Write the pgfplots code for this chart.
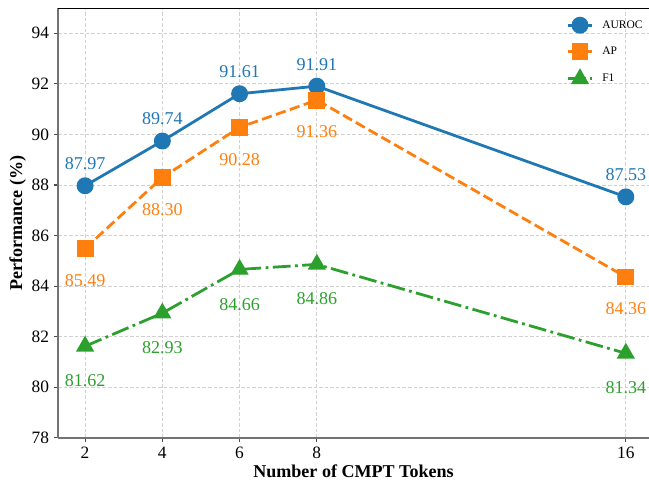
\documentclass[border=0pt]{standalone}
\usepackage{pgfplots}
\pgfplotsset{compat=1.18}
\usepackage{fontspec}
\setmainfont{Liberation Serif}
\usetikzlibrary{calc}
\definecolor{cA}{HTML}{1F77B4}
\definecolor{cB}{HTML}{FF7F0E}
\definecolor{cC}{HTML}{2CA02C}
\begin{document}
\begin{tikzpicture}
\begin{axis}[
  scale only axis,
  width=425.5pt, height=309.4pt,
  xmin=1.3, xmax=16.6, ymin=78, ymax=95,
  xtick={2,4,6,8,16}, ytick={78,80,82,84,86,88,90,92,94},
  axis x line*=bottom, axis y line*=left,
  axis line style={draw=black!55, line width=1.2pt},
  tick align=outside, major tick length=3pt,
  tick style={black!70, line width=0.8pt},
  grid=major, major grid style={dash pattern=on 2.5pt off 1.5pt, black!18, line width=0.6pt},
  /pgf/number format/assume math mode=true,
  ticklabel style={font=\fontsize{12.5}{14}\selectfont},
  xlabel={\textbf{Number of CMPT Tokens}},
  ylabel={\textbf{Performance (\%)}},
  label style={font=\fontsize{13}{15}\selectfont},
  xlabel style={at={(axis description cs:0.5,0)}, anchor=center, yshift=-24pt},
  ylabel style={at={(axis description cs:0,0.5)}, anchor=center, yshift=29pt},
  legend style={at={(axis description cs:0.858,0.982)}, anchor=north west, draw=none, fill=none,
    font=\fontsize{8.3}{10}\selectfont, row sep=7.6pt, inner sep=1pt},
  legend image code/.code={\draw[mark repeat=2,mark phase=2,#1] plot coordinates {(0cm,0cm) (0.3cm,0cm) (0.6cm,0cm)}; \path (0.6cm+4.5pt,0cm);},
  legend cell align=left,
  nodes near coords,
  point meta=y,
  every node near coord/.append style={font=\fontsize{13}{15}\selectfont, anchor=center,
    /pgf/number format/fixed, /pgf/number format/fixed zerofill, /pgf/number format/precision=2,
    /pgf/number format/assume math mode=true},
]
\coordinate (bl) at (rel axis cs:0,0);
\coordinate (tr) at (rel axis cs:1,1);
\draw[black, line width=0.8pt] (rel axis cs:0,1) -- (rel axis cs:1,1);
\addplot[cA, line width=2pt, mark=*, mark size=5.6pt, mark options={solid, line width=1pt},
  every node near coord/.append style={text=cA, yshift=15.8pt}]
  coordinates {(2,87.97) (4,89.74) (6,91.61) (8,91.91) (16,87.53)};
\addlegendentry{AUROC}
\addplot[cB, line width=2pt, dash pattern=on 7.4pt off 3.2pt, mark=square*, mark size=5.6pt, mark options={solid, line width=1pt},
  every node near coord/.append style={text=cB, yshift=-23pt}]
  coordinates {(2,85.49) (4,88.30) (6,90.28) (8,91.36) (16,84.36)};
\addlegendentry{AP}
\addplot[cC, line width=2pt, dash pattern=on 12.8pt off 3.2pt on 2pt off 3.2pt, mark=triangle*, mark size=6.6pt, mark options={solid, line width=1pt},
  every node near coord/.append style={text=cC, yshift=-25pt}]
  coordinates {(2,81.62) (4,82.93) (6,84.66) (8,84.86) (16,81.34)};
\addlegendentry{F1}
\end{axis}
\pgfresetboundingbox
\path[use as bounding box] ($(bl)+(-41.8pt,-32.6pt)$) rectangle ($(tr)+(0pt,5.8pt)$);
\end{tikzpicture}
\end{document}
